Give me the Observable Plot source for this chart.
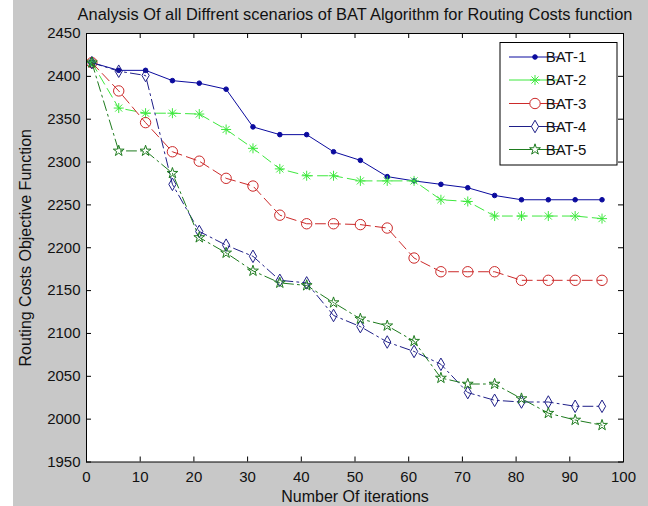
<!DOCTYPE html>
<html>
<head>
<meta charset="utf-8">
<script src="https://cdn.jsdelivr.net/npm/d3@7"></script>
<script src="https://cdn.jsdelivr.net/npm/@observablehq/plot@0.6"></script>
<style>
  html, body { margin: 0; padding: 0; background: #ffffff; }
  #chart { position: absolute; left: 13px; top: 0; width: 635px; height: 506px; background: #c8c8c8; }
  #chart svg { display: block; }
</style>
</head>
<body>
<div id="chart"></div>
<script>
// ---- data ----
const iterations = [1, 6, 11, 16, 21, 26, 31, 36, 41, 46, 51, 56, 61, 66, 71, 76, 81, 86, 91, 96];
const bat1 = [2416, 2407, 2407, 2395, 2392, 2385, 2341, 2332, 2332, 2312, 2302, 2283, 2278, 2274, 2270, 2261, 2256, 2256, 2256, 2256];
const bat2 = [2416, 2363, 2357, 2357, 2356, 2338, 2316, 2292, 2284, 2284, 2278, 2278, 2278, 2256, 2254, 2237, 2237, 2237, 2237, 2234];
const bat3 = [2416, 2383, 2346, 2312, 2301, 2281, 2272, 2238, 2228, 2228, 2227, 2223, 2188, 2172, 2172, 2172, 2162, 2162, 2162, 2162];
const bat4 = [2416, 2406, 2401, 2274, 2219, 2203, 2190, 2162, 2159, 2121, 2108, 2090, 2079, 2064, 2031, 2022, 2020, 2020, 2015, 2015];
const bat5 = [2416, 2313, 2313, 2287, 2212, 2194, 2173, 2159, 2156, 2136, 2117, 2109, 2091, 2048, 2041, 2041, 2024, 2007, 1999, 1993];
const seriesNames = ["BAT-1", "BAT-2", "BAT-3", "BAT-4", "BAT-5"];
const xTicks = [0, 10, 20, 30, 40, 50, 60, 70, 80, 90, 100];
const yTicks = [1950, 2000, 2050, 2100, 2150, 2200, 2250, 2300, 2350, 2400, 2450];
const titleText = "Analysis Of all Diffrent scenarios of BAT Algorithm for Routing Costs function";
const xLabelText = "Number Of iterations";
const yLabelText = "Routing Costs Objective Function";

// ---- styles ----
const asterisk8 = {
  draw(ctx, size) {
    const r = Math.sqrt(size / Math.PI);
    const d = r * Math.SQRT1_2;
    ctx.moveTo(-r, 0); ctx.lineTo(r, 0);
    ctx.moveTo(0, -r); ctx.lineTo(0, r);
    ctx.moveTo(-d, -d); ctx.lineTo(d, d);
    ctx.moveTo(-d, d); ctx.lineTo(d, -d);
  }
};
const seriesValues = [bat1, bat2, bat3, bat4, bat5];
const styles = [
  {color: "#0b0b9e", dash: null,        symbol: "circle",  r: 2.3, fill: true},
  {color: "#3ee83e", dash: "10,5",      symbol: asterisk8, r: 5,   fill: false},
  {color: "#cc2a2a", dash: "10,5",      symbol: "circle",  r: 5.2, fill: false},
  {color: "#1f1f88", dash: "10,4,2,4",  symbol: "diamond", r: 3.8, fill: false},
  {color: "#1e7b1e", dash: "10,4,2,4",  symbol: "star",    r: 3.4, fill: false}
];

const table = [];
seriesNames.forEach((name, i) => {
  iterations.forEach((it, j) => table.push({series: name, iteration: it, cost: seriesValues[i][j]}));
});

const W = 635, H = 506;
const mL = 73, mR = 25, mT = 33, mB = 44.5;
const innerW = W - mL - mR, innerH = H - mT - mB;
const font = "'Liberation Sans', Arial, Helvetica, sans-serif";

const seriesMarks = [];
seriesNames.forEach((name, i) => {
  const s = styles[i];
  const data = table.filter(d => d.series === name);
  seriesMarks.push(Plot.line(data, {x: "iteration", y: "cost", stroke: s.color, strokeWidth: 1, strokeDasharray: s.dash}));
  seriesMarks.push(Plot.dot(data, {
    x: "iteration", y: "cost", symbol: s.symbol, r: s.r,
    fill: s.fill ? s.color : "none", stroke: s.color, strokeWidth: 1
  }));
});

const chart = Plot.plot({
  width: W, height: H,
  marginLeft: mL, marginRight: mR, marginTop: mT, marginBottom: mB,
  x: {domain: [0, 100]},
  y: {domain: [1950, 2450]},
  style: {background: "#c8c8c8", fontFamily: font, fontSize: "15px", color: "#111"},
  marks: [
    Plot.frame({fill: "white", stroke: null}),
    // inward ticks on all four sides
    Plot.tickX(xTicks, {x: d => d, insetTop: innerH - 5, stroke: "black"}),
    Plot.tickX(xTicks, {x: d => d, insetBottom: innerH - 5, stroke: "black"}),
    Plot.tickY(yTicks, {y: d => d, insetRight: innerW - 5, stroke: "black"}),
    Plot.tickY(yTicks, {y: d => d, insetLeft: innerW - 5, stroke: "black"}),
    Plot.axisX({ticks: xTicks, tickSize: 0, tickPadding: 9, label: null, fontSize: 15, tickFormat: d => String(d)}),
    Plot.axisY({ticks: yTicks, tickSize: 0, tickPadding: 6, label: null, fontSize: 15, tickFormat: d => String(d)}),
    ...seriesMarks,
    Plot.frame({stroke: "black", strokeWidth: 1}),
    Plot.text([titleText], {frameAnchor: "top", lineAnchor: "bottom", dy: -13.5, fontSize: 16.4, fill: "#111"}),
    Plot.text([xLabelText], {frameAnchor: "bottom", lineAnchor: "bottom", dy: 39.5, fontSize: 16, fill: "#111"}),
    Plot.text([yLabelText], {frameAnchor: "left", textAnchor: "middle", lineAnchor: "bottom", rotate: -90, dx: -56, fontSize: 16, fill: "#111"})
  ]
});

document.getElementById("chart").appendChild(chart);

// ---- legend (inside plot, top-right) ----
const svg = d3.select(chart);
const lg = svg.append("g").attr("font-family", font).attr("font-size", 15);
const boxX = 487, boxY = 42.5, boxW = 117, boxH = 122.5;
lg.append("rect").attr("x", boxX).attr("y", boxY).attr("width", boxW).attr("height", boxH)
  .attr("fill", "white").attr("stroke", "black").attr("stroke-width", 1);
const rowY = [57, 80, 103.5, 126.5, 149.5];
seriesNames.forEach((name, i) => {
  const s = styles[i];
  const y = rowY[i];
  lg.append("line").attr("x1", 496).attr("x2", 546).attr("y1", y).attr("y2", y)
    .attr("stroke", s.color).attr("stroke-width", 1);
  const symType = typeof s.symbol === "string"
    ? {circle: d3.symbolCircle, diamond: d3.symbolDiamond, star: d3.symbolStar}[s.symbol]
    : s.symbol;
  lg.append("path").attr("d", d3.symbol(symType, Math.PI * s.r * s.r)())
    .attr("transform", `translate(522,${y})`)
    .attr("fill", s.fill ? s.color : "white").attr("stroke", s.color).attr("stroke-width", 1);
  lg.append("text").attr("x", 553).attr("y", y).attr("dy", "0.35em").attr("fill", "#111").text(name);
});
</script>
</body>
</html>
